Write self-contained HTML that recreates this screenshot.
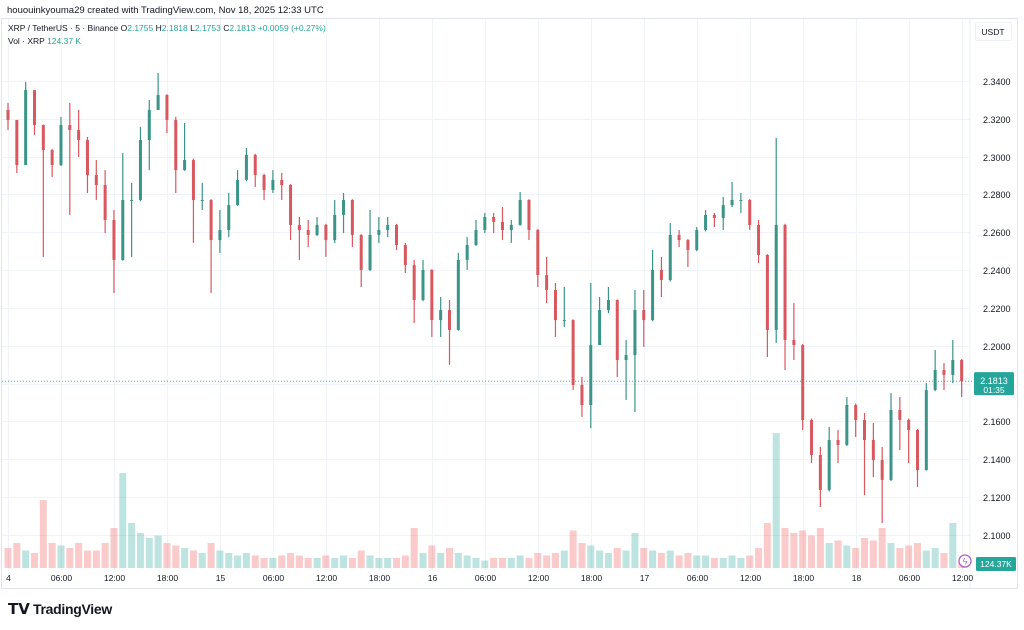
<!DOCTYPE html>
<html><head><meta charset="utf-8">
<style>
body{margin:0;background:#fff;width:1024px;height:630px;overflow:hidden;font-family:"Liberation Sans",sans-serif;}
svg{position:absolute;left:0;top:0}
</style></head>
<body>
<svg id="chart" width="1024" height="630" xmlns="http://www.w3.org/2000/svg">
<text x="7" y="13" font-size="9.5" fill="#131722">hououinkyouma29 created with TradingView.com, Nov 18, 2025 12:33 UTC</text>
<rect x="1.5" y="18.5" width="1016" height="570" fill="none" stroke="#e0e3eb"/>
<g id="grid"></g>
<line x1="970" y1="19" x2="970" y2="588" stroke="#eceff4"/>
<g id="vol"></g>
<g id="candles"></g>
<g id="yticks"></g>
<g id="xticks"></g>
<text x="8" y="31" font-size="8.5" fill="#131722">XRP / TetherUS · 5 · Binance <tspan>O</tspan><tspan fill="#26a69a">2.1755</tspan> <tspan>H</tspan><tspan fill="#26a69a">2.1818</tspan> <tspan>L</tspan><tspan fill="#26a69a">2.1753</tspan> <tspan>C</tspan><tspan fill="#26a69a">2.1813</tspan> <tspan fill="#26a69a">+0.0059 (+0.27%)</tspan></text>
<text x="8" y="44" font-size="8.5" fill="#131722">Vol · XRP <tspan fill="#26a69a">124.37 K</tspan></text>
<rect x="975.5" y="22.5" width="36" height="18" rx="2" fill="#fff" stroke="#eef0f3"/>
<text x="993" y="35" font-size="8.5" fill="#131722" text-anchor="middle">USDT</text>
<g>
<text x="8" y="614" font-size="15" font-weight="bold" fill="#131722">𝗧𝗩</text>
<text x="33" y="614" font-size="14" font-weight="bold" fill="#131722" letter-spacing="-0.3">TradingView</text>
</g>
</svg>
<script>
const firstOpen = 2.3247;
const highs = [2.3284,2.3157,2.3395,2.3352,2.3170,2.3040,2.3210,2.3284,2.3247,2.3104,2.2982,2.2929,2.2718,2.3019,2.2861,2.3157,2.3300,2.3442,2.3330,2.3210,2.3178,2.2990,2.2861,2.2775,2.2718,2.2808,2.2929,2.3046,2.3015,2.2910,2.2929,2.2914,2.2855,2.2681,2.2665,2.2681,2.2645,2.2771,2.2808,2.2775,2.2590,2.2718,2.2681,2.2681,2.2645,2.2544,2.2454,2.2454,2.2405,2.2258,2.2242,2.2491,2.2575,2.2665,2.2702,2.2702,2.2734,2.2665,2.2813,2.2775,2.2618,2.2470,2.2332,2.2311,2.2140,2.1835,2.2332,2.2258,2.2311,2.2245,2.2031,2.2295,2.2295,2.2507,2.2470,2.2649,2.2612,2.2565,2.2628,2.2718,2.2702,2.2787,2.2866,2.2808,2.2776,2.2665,2.2485,2.3099,2.2645,2.2226,2.2010,2.1615,2.1465,2.1571,2.1555,2.1729,2.1695,2.1645,2.1592,2.1465,2.1750,2.1729,2.1615,2.1560,2.1803,2.1978,2.1909,2.2031,2.1930];
const lows = [2.3141,2.2914,2.3051,2.3115,2.2470,2.2892,2.2950,2.2692,2.2998,2.2808,2.2771,2.2596,2.2279,2.2450,2.2470,2.2765,2.2929,2.3247,2.3125,2.2808,2.2925,2.2544,2.2718,2.2279,2.2491,2.2575,2.2740,2.2870,2.2840,2.2771,2.2808,2.2771,2.2559,2.2454,2.2522,2.2580,2.2470,2.2544,2.2596,2.2522,2.2311,2.2395,2.2544,2.2575,2.2507,2.2385,2.2121,2.2236,2.2047,2.2047,2.1899,2.2080,2.2401,2.2528,2.2596,2.2596,2.2559,2.2544,2.2635,2.2559,2.2311,2.2226,2.2047,2.2099,2.1766,2.1624,2.1565,2.2047,2.2173,2.1835,2.1714,2.1650,2.1994,2.2130,2.2258,2.2340,2.2522,2.2417,2.2500,2.2605,2.2628,2.2612,2.2734,2.2702,2.2612,2.2438,2.1941,2.2015,2.1872,2.1925,2.1555,2.1380,2.1148,2.1230,2.1380,2.1470,2.1518,2.1211,2.1306,2.1063,2.1285,2.1449,2.1380,2.1254,2.1340,2.1760,2.1766,2.1803,2.1729];
const closes = [2.3194,2.2956,2.3352,2.3167,2.3035,2.2956,2.3167,2.3141,2.3088,2.2903,2.2850,2.2665,2.2454,2.2771,2.2771,2.3088,2.3247,2.3326,2.3194,2.2929,2.2982,2.2771,2.2771,2.2559,2.2612,2.2744,2.2877,2.3009,2.2903,2.2824,2.2877,2.2850,2.2639,2.2612,2.2586,2.2639,2.2559,2.2692,2.2771,2.2586,2.2401,2.2586,2.2612,2.2639,2.2533,2.2427,2.2242,2.2401,2.2136,2.2189,2.2084,2.2454,2.2533,2.2612,2.2681,2.2655,2.2612,2.2639,2.2771,2.2612,2.2374,2.2295,2.2136,2.2136,2.1793,2.1687,2.2004,2.2189,2.2242,2.1925,2.1951,2.2189,2.2136,2.2401,2.2348,2.2586,2.2559,2.2507,2.2612,2.2692,2.2676,2.2744,2.2771,2.2771,2.2639,2.2480,2.2084,2.2639,2.2031,2.2004,2.1608,2.1423,2.1238,2.1502,2.1476,2.1687,2.1608,2.1502,2.1396,2.1291,2.1661,2.1608,2.1555,2.1343,2.1766,2.1872,2.1846,2.1925,2.1813];
const volumes = [400,500,350,300,1360,500,450,400,500,350,350,500,800,1900,900,700,600,650,500,450,400,350,300,500,350,300,250,300,250,200,200,250,300,250,200,200,250,200,250,200,350,250,200,200,200,250,800,300,450,300,400,300,250,200,150,200,200,200,250,200,300,250,300,350,750,500,450,350,300,400,350,700,400,350,300,350,250,300,250,250,200,200,250,200,250,400,900,2700,800,700,750,650,800,500,550,450,400,600,550,800,500,400,450,500,350,400,300,900,124.37];
const priceTicks = ["2.3400","2.3200","2.3000","2.2800","2.2600","2.2400","2.2200","2.2000","2.1800","2.1600","2.1400","2.1200","2.1000"];
const timeTicks = ["4","06:00","12:00","18:00","15","06:00","12:00","18:00","16","06:00","12:00","18:00","17","06:00","12:00","18:00","18","06:00","12:00"];
const timeTickHours = [0,6,12,18,24,30,36,42,48,54,60,66,72,78,84,90,96,102,108];
const lastPrice = 2.1813;

const NS="http://www.w3.org/2000/svg";
const X=h=>8+h*8.83;
const Y=p=>81+(2.34-p)*1891.5;
const VOLBASE=568, VOLK=0.05;
function mk(tag,attrs,parent){const e=document.createElementNS(NS,tag);for(const k in attrs)e.setAttribute(k,attrs[k]);parent.appendChild(e);return e;}
const grid=document.getElementById('grid'),cg=document.getElementById('candles'),vg=document.getElementById('vol'),yt=document.getElementById('yticks'),xt=document.getElementById('xticks');
priceTicks.forEach(t=>{const y=Math.round(Y(parseFloat(t)))+0.5;
 const l=mk('line',{x1:2,x2:970,y1:y,y2:y,stroke:'#f0f3fa'},grid);
 
 
 const tx=mk('text',{x:983,y:y+3.5,'font-size':9,fill:'#131722'},yt);tx.textContent=t;
 
 
});
timeTicks.forEach((t,i)=>{const x=Math.round(X(timeTickHours[i]))+0.5;
 const l=mk('line',{x1:x,x2:x,y1:19,y2:570,stroke:'#f0f3fa'},grid);
 
 
 const tx=mk('text',{x:x,y:581,'font-size':8.5,fill:'#131722','text-anchor':'middle'},xt);tx.textContent=t;
 
 
});
let prev=firstOpen;
closes.forEach((c,i)=>{const o=prev;prev=c;const up=c>=o;
 const col=up?'#3a9488':'#d9575e';const x=X(i);
 const hi=Math.max(highs[i],o,c),lo=Math.min(lows[i],o,c);
 const vh=volumes[i]*VOLK;
 const vb=mk('rect',{x:x-3.5,y:VOLBASE-vh,width:7,height:vh,fill:up?'rgba(38,166,154,0.3)':'rgba(239,83,80,0.3)'},vg);
 
 
 const w=mk('line',{x1:x,x2:x,y1:Y(hi),y2:Y(lo),stroke:col,'stroke-width':1.2},cg);
 
 
 const t=Math.min(Y(o),Y(c)),b=Math.max(Math.abs(Y(o)-Y(c)),1);
 const r=mk('rect',{x:x-1.5,y:t,width:3,height:b,fill:col},cg);
 
 
});
const svg=document.getElementById('chart');
const ly=Y(lastPrice);
const pl=mk('line',{x1:2,x2:972,y1:ly,y2:ly,stroke:'#26a69a','stroke-dasharray':'1 2','stroke-width':0.8},svg);


const pb=mk('rect',{x:974,y:ly-9,width:40,height:23,rx:1.5,fill:'#26a69a'},svg);


const pt=mk('text',{x:994,y:ly+3,'font-size':9,fill:'#fff','text-anchor':'middle'},svg);pt.textContent=lastPrice.toFixed(4);


const ct=mk('text',{x:994,y:ly+12,'font-size':8.5,fill:'#fff','text-anchor':'middle'},svg);ct.textContent='01:35';


const vbx=mk('rect',{x:976,y:557,width:40,height:14,rx:1.5,fill:'#26a69a'},svg);


const vt=mk('text',{x:996,y:567,'font-size':8.5,fill:'#fff','text-anchor':'middle'},svg);vt.textContent=volumes[volumes.length-1]+'K';


const ic=mk('circle',{cx:965,cy:561,r:6,fill:'#fff',stroke:'#b05fc8','stroke-width':1.3},svg);


const it=mk('text',{x:965,y:564.5,'font-size':9,fill:'#b05fc8','text-anchor':'middle'},svg);it.textContent='ϟ';


</script>
</body></html>
